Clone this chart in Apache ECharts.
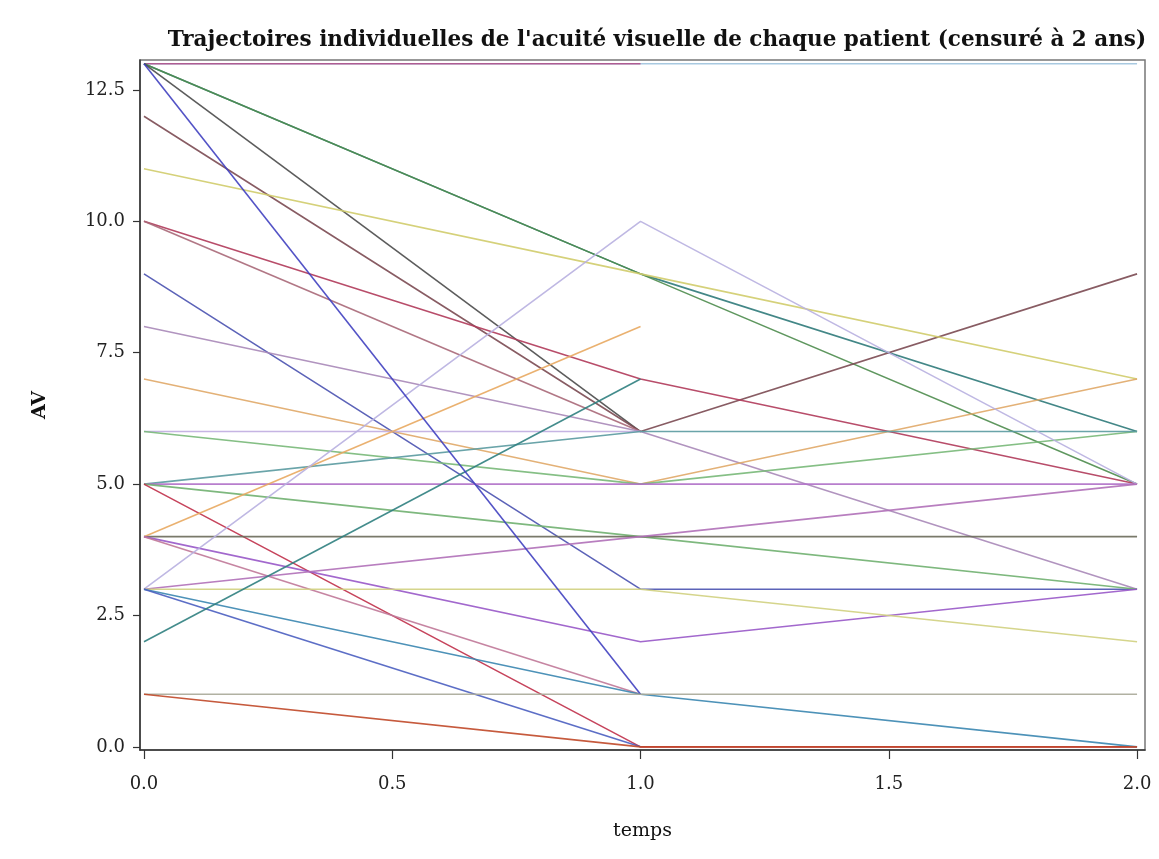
<!DOCTYPE html>
<html>
<head>
<meta charset="utf-8">
<script src="https://cdn.jsdelivr.net/npm/echarts@6/dist/echarts.min.js"></script>
<style>
  html, body { margin: 0; padding: 0; background: #fff; }
  #chart { width: 1159px; height: 859px; }
</style>
</head>
<body>
<div id="chart"></div>
<script>
// Visit times (years)
const temps = [0, 1, 2];

// Visual acuity per patient at each visit (null = no visit, censored)
const avT0 = [13, 13, 13, 13, 13, 12, 11, 10, 10, 9, 8, 7, 6, 6, 5, 5, 5, 5, 4, 4, 4, 4, 3, 3, 3, 3, 3, 2, 13, 1, 1];
const avT1 = [13, 13, 9, 9, 6, 6, 9, 7, 6, 3, 6, 5, 6, 5, 6, 5, 4, 0, 4, 8, 2, 1, 10, 4, 3, 1, 0, 7, 1, 1, 0];
const avT2 = [13, null, 6, 5, null, 9, 7, 5, null, 3, 3, 7, null, 6, 6, 5, 3, 0, 4, null, 3, null, 5, 5, 2, 0, null, null, null, 1, 0];

// Axis ticks
const xTicks = [0, 0.5, 1, 1.5, 2];
const yTicks = [0, 2.5, 5, 7.5, 10, 12.5];

// One colour per patient line
const palette = [
  '#9ec3dd', '#b0508a', '#2f7a7a', '#4e8c4e', '#4a4a4a', '#7b4a52', '#d0cc6c', '#b03a5a',
  '#a86878', '#4a52b0', '#a888b8', '#e0a868', '#c0ace0', '#78b878', '#5a9aa0', '#b070c8',
  '#70b070', '#c0304a', '#6a6a5a', '#e8a860', '#9858c8', '#c07898', '#b8b0e0', '#b070b8',
  '#d0d080', '#3a86b0', '#4a5ec0', '#2f8080', '#4040c0', '#a8a898', '#c04828'
];

const visits = [avT0, avT1, avT2];
const series = avT0.map((_, i) => ({
  type: 'line',
  symbol: 'none',
  silent: true,
  lineStyle: { width: 1.6, color: palette[i % palette.length], opacity: 0.9 },
  data: temps
    .map((t, k) => [t, visits[k][i]])
    .filter(p => p[1] !== null && p[1] !== undefined)
}));

const serif = 'DejaVu Serif';
const chart = echarts.init(document.getElementById('chart'), null, { renderer: 'canvas' });
chart.setOption({
  animation: false,
  backgroundColor: '#fff',
  title: {
    text: "Trajectoires individuelles de l'acuité visuelle de chaque patient (censuré à 2 ans)",
    left: 652,
    textAlign: 'center',
    top: 24,
    textStyle: { fontFamily: serif, fontSize: 21.5, fontWeight: 'bold', color: '#111' }
  },
  grid: {
    left: 140, top: 60, right: 14, bottom: 109,
    show: true, borderColor: '#777', borderWidth: 1.5, backgroundColor: '#fff'
  },
  xAxis: {
    type: 'value',
    min: -0.008, max: 2.016,
    name: 'temps',
    nameLocation: 'middle',
    nameGap: 72,
    nameTextStyle: { fontFamily: serif, fontSize: 19, color: '#111' },
    axisLine: { show: true, onZero: false, lineStyle: { color: '#333', width: 1.5 } },
    axisTick: { show: true, length: 9, customValues: xTicks, lineStyle: { color: '#333', width: 1.2 } },
    axisLabel: {
      customValues: xTicks, margin: 25,
      formatter: v => v.toFixed(1),
      fontFamily: serif, fontSize: 18, color: '#222'
    },
    splitLine: { show: false }
  },
  yAxis: {
    type: 'value',
    min: -0.06, max: 13.07,
    name: 'AV',
    nameLocation: 'middle',
    nameGap: 90,
    nameTextStyle: { fontFamily: serif, fontSize: 19, fontWeight: 'bold', color: '#111' },
    axisLine: { show: true, onZero: false, lineStyle: { color: '#333', width: 1.5 } },
    axisTick: { show: true, length: 7, customValues: yTicks, lineStyle: { color: '#333', width: 1.2 } },
    axisLabel: {
      customValues: yTicks, margin: 15,
      formatter: v => v.toFixed(1),
      fontFamily: serif, fontSize: 18, color: '#222'
    },
    splitLine: { show: false }
  },
  series: series
});
</script>
</body>
</html>
